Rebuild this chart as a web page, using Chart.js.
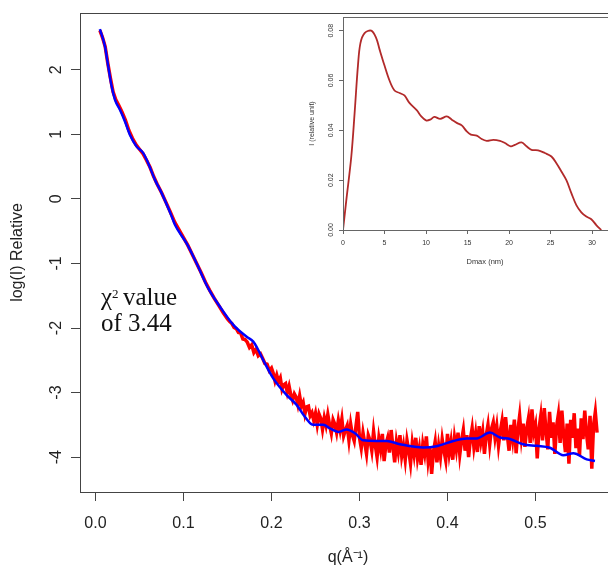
<!DOCTYPE html>
<html>
<head>
<meta charset="utf-8">
<script src="https://cdn.jsdelivr.net/npm/chart.js@4.4.1/dist/chart.umd.min.js"></script>
<style>
html, body { margin: 0; padding: 0; background: #fff; overflow: hidden; }
#wrap { position: relative; width: 608px; height: 567px; overflow: hidden; }
#main { position: absolute; left: 0; top: 0; }
#inset { position: absolute; left: 300px; top: 0; }
</style>
</head>
<body>
<div id="wrap">
  <canvas id="main" width="616" height="567"></canvas>
  <canvas id="inset" width="330" height="280"></canvas>
</div>
<script>
// experimental scattering curve (red)
const qExp = [
  0.005, 0.008, 0.011, 0.014, 0.017, 0.02, 0.023, 0.026, 0.03, 0.034,
  0.038, 0.042, 0.046, 0.05, 0.054, 0.058, 0.062, 0.066, 0.07, 0.075,
  0.08, 0.085, 0.09, 0.095, 0.1, 0.105, 0.11, 0.115, 0.12, 0.125,
  0.13, 0.135, 0.14, 0.145, 0.15,
  0.1525, 0.155, 0.1575, 0.16, 0.1625, 0.165, 0.1675, 0.17, 0.1725, 0.175,
  0.1775, 0.18, 0.1825, 0.185, 0.1875, 0.19, 0.1925, 0.195, 0.1975, 0.2,
  0.202, 0.204, 0.206, 0.208, 0.210, 0.212, 0.214, 0.216, 0.218, 0.220,
  0.222, 0.224, 0.226, 0.228, 0.230, 0.232, 0.234, 0.236, 0.238, 0.240,
  0.242, 0.244, 0.246, 0.248, 0.250,
  0.252, 0.254, 0.256, 0.258, 0.260, 0.262, 0.264, 0.266, 0.268, 0.270,
  0.272, 0.274, 0.276, 0.278, 0.280, 0.282, 0.284, 0.286, 0.288, 0.290,
  0.292, 0.294, 0.296, 0.298, 0.300,
  0.302, 0.304, 0.306, 0.308, 0.310, 0.312, 0.314, 0.316, 0.318, 0.320,
  0.322, 0.324, 0.326, 0.328, 0.330, 0.332, 0.334, 0.336, 0.338, 0.340,
  0.342, 0.344, 0.346, 0.348, 0.350,
  0.352, 0.354, 0.356, 0.358, 0.360, 0.362, 0.364, 0.366, 0.368, 0.370,
  0.372, 0.374, 0.376, 0.378, 0.380, 0.382, 0.384, 0.386, 0.388, 0.390,
  0.392, 0.394, 0.396, 0.398, 0.400,
  0.402, 0.404, 0.406, 0.408, 0.410, 0.412, 0.414, 0.416, 0.418, 0.420,
  0.422, 0.424, 0.426, 0.428, 0.430, 0.432, 0.434, 0.436, 0.438, 0.440,
  0.442, 0.444, 0.446, 0.448, 0.450,
  0.452, 0.454, 0.456, 0.458, 0.460, 0.462, 0.464, 0.466, 0.468, 0.470,
  0.472, 0.474, 0.476, 0.478, 0.480, 0.482, 0.484, 0.486, 0.488, 0.490,
  0.492, 0.494, 0.496, 0.498, 0.500,
  0.502, 0.504, 0.506, 0.508, 0.510, 0.512, 0.514, 0.516, 0.518, 0.520,
  0.522, 0.524, 0.526, 0.528, 0.530, 0.532, 0.534, 0.536, 0.538, 0.540,
  0.542, 0.544, 0.546, 0.548, 0.550, 0.552, 0.554, 0.556, 0.558, 0.560,
  0.562, 0.564, 0.566, 0.568, 0.570
];
const logIExp = [
  2.61, 2.50, 2.36, 2.10, 1.87, 1.66, 1.54, 1.46, 1.35, 1.22,
  1.06, 0.94, 0.84, 0.77, 0.70, 0.60, 0.49, 0.35, 0.23, 0.10,
  -0.05, -0.20, -0.36, -0.48, -0.60, -0.72, -0.86, -1.00, -1.14, -1.29,
  -1.42, -1.54, -1.65, -1.76, -1.86,
  -1.90, -1.93, -1.99, -2.01, -2.07, -2.08, -2.17, -2.18, -2.22, -2.30,
  -2.26, -2.38, -2.33, -2.43, -2.40, -2.47, -2.55, -2.56, -2.66, -2.62,
  -2.70, -2.82, -2.73, -2.83, -2.77, -2.95, -2.88, -2.86, -3.00, -2.90,
  -3.04, -3.12, -3.02, -3.07, -3.19, -3.05, -3.21, -3.15, -3.33, -3.22,
  -3.21, -3.36, -3.31, -3.43, -3.32,
  -3.50, -3.33, -3.40, -3.57, -3.39, -3.51, -3.34, -3.50, -3.63, -3.42,
  -3.49, -3.62, -3.43, -3.58, -3.41, -3.67, -3.58, -3.51, -3.74, -3.49,
  -3.66, -3.75, -3.52, -3.30, -3.70,
  -3.86, -3.62, -3.78, -3.95, -3.66, -3.74, -3.90, -3.60, -3.82, -4.00,
  -3.71, -3.88, -3.64, -4.06, -3.80, -3.70, -3.93, -3.58, -3.84, -4.08,
  -3.76, -3.92, -3.66, -3.98, -3.82,
  -4.04, -3.74, -3.90, -4.10, -3.78, -3.96, -3.70, -4.02, -3.86, -4.12,
  -3.80, -3.95, -3.68, -4.05, -3.84, -4.26, -3.92, -3.76, -4.08, -3.82,
  -4.00, -3.72, -3.90, -4.05, -3.64,
  -3.94, -3.76, -4.04, -3.70, -3.88, -3.62, -3.96, -3.74, -3.58, -3.90,
  -3.66, -4.00, -3.72, -3.55, -3.84, -3.64, -3.92, -3.52, -3.76, -3.60,
  -3.95, -3.66, -3.50, -3.80, -3.56,
  -3.46, -3.70, -3.52, -3.82, -3.60, -3.44, -3.74, -3.38, -3.66, -3.90,
  -3.50, -3.72, -3.42, -3.94, -3.58, -3.36, -3.70, -3.48, -3.84, -3.56,
  -3.40, -3.78, -3.26, -3.62, -3.50,
  -4.02, -3.56, -3.36, -3.74, -3.24, -3.60, -3.88, -3.30, -3.70, -3.46,
  -3.95, -3.52, -3.34, -3.78, -3.28, -3.66, -3.92, -3.48, -4.10, -3.42,
  -3.70, -3.32, -3.86, -3.56, -3.98, -3.40, -3.72, -3.28, -3.64, -3.88,
  -3.36, -4.18, -3.50, -3.30, -3.62
];
// model fit (blue)
const qFit = [
  0.005, 0.0108, 0.0145, 0.0184, 0.0222, 0.0278, 0.0335, 0.0392, 0.0468, 0.0543,
  0.06, 0.0676, 0.0752, 0.0866, 0.0903, 0.1036, 0.115, 0.1282, 0.1415, 0.1566,
  0.1718, 0.1793, 0.185, 0.1926, 0.202, 0.2173, 0.2286, 0.238, 0.2475, 0.2589,
  0.2665, 0.276, 0.2855, 0.2949, 0.3043, 0.3195, 0.331, 0.346, 0.3725, 0.3877,
  0.4066, 0.4218, 0.4332, 0.4483, 0.4597, 0.471, 0.486, 0.5014, 0.5165, 0.5316,
  0.543, 0.5582, 0.5676
];
const logIFit = [
  2.63, 2.36, 2.05, 1.74, 1.535, 1.38, 1.20, 0.99, 0.81, 0.71,
  0.55, 0.295, 0.09, -0.27, -0.40, -0.69, -1.0, -1.385, -1.67, -1.95,
  -2.135, -2.21, -2.34, -2.55, -2.78, -3.04, -3.19, -3.375, -3.50, -3.50,
  -3.555, -3.61, -3.57, -3.63, -3.74, -3.75, -3.75, -3.80, -3.85, -3.83,
  -3.75, -3.71, -3.71, -3.62, -3.695, -3.72, -3.80, -3.825, -3.855, -3.97,
  -3.94, -4.035, -4.06
];
const xTicks = [0, 0.1, 0.2, 0.3, 0.4, 0.5];
const yTicks = [-4, -3, -2, -1, 0, 1, 2];

// pair distance distribution (inset)
const rNm = [
  0, 0.4, 1.0, 1.4, 1.8, 2.1, 2.6, 3.4, 4.0, 4.4,
  5.0, 5.6, 6.2, 6.8, 7.4, 8.0, 8.9, 9.4, 10.0, 10.5,
  11.0, 11.7, 12.5, 13.1, 13.7, 14.3, 14.9, 15.4, 16.1, 16.7,
  17.3, 18.1, 18.9, 19.5, 20.2, 20.7, 21.5, 22.1, 22.7, 23.5,
  24.3, 25.1, 25.7, 26.3, 26.9, 27.5, 28.1, 28.7, 29.3, 29.9,
  30.5, 31.1
];
const pr = [
  0, 0.012, 0.0295, 0.047, 0.066, 0.075, 0.079, 0.080, 0.077, 0.0725,
  0.066, 0.060, 0.056, 0.055, 0.054, 0.051, 0.048, 0.0457, 0.044, 0.0443,
  0.0454, 0.0446, 0.0456, 0.0443, 0.043, 0.042, 0.0396, 0.0383, 0.0379, 0.0365,
  0.0358, 0.0362, 0.0358, 0.0349, 0.0336, 0.0342, 0.0352, 0.0336, 0.0322, 0.032,
  0.0309, 0.0295, 0.0268, 0.0235, 0.020, 0.0148, 0.010, 0.0071, 0.0054, 0.0043,
  0.002, 0
];
const rTicks = [0, 5, 10, 15, 20, 25, 30];
const prTicks = [0, 0.02, 0.04, 0.06, 0.08];

const sans = "'Liberation Sans', Arial, sans-serif";

function pts(xs, ys) {
  return xs.map((x, i) => ({ x: x, y: ys[i] }));
}

function noPad(s) {
  s.paddingTop = 0;
  s.paddingBottom = 0;
  s.paddingLeft = 0;
  s.paddingRight = 0;
}

// frame around the plotting region, like R's box()
const boxPlugin = {
  id: "box",
  afterDraw(chart, args, opts) {
    const a = chart.chartArea;
    const ctx = chart.ctx;
    ctx.save();
    ctx.strokeStyle = opts.color || "#444";
    ctx.lineWidth = 1;
    ctx.strokeRect(Math.round(a.left) + 0.5, Math.round(a.top) + 0.5,
      Math.round(a.right - a.left), Math.round(a.bottom - a.top));
    ctx.restore();
  }
};

// chi-square note
const notePlugin = {
  id: "note",
  afterDraw(chart) {
    const ctx = chart.ctx;
    ctx.save();
    ctx.fillStyle = "#111";
    ctx.textBaseline = "alphabetic";
    ctx.textAlign = "left";
    ctx.font = "25px 'Liberation Serif', 'Times New Roman', serif";
    ctx.fillText("\u03C7", 101, 305);
    ctx.font = "13px 'Liberation Serif', 'Times New Roman', serif";
    ctx.fillText("2", 112, 298);
    ctx.font = "25px 'Liberation Serif', 'Times New Roman', serif";
    ctx.fillText("value", 123, 305);
    ctx.fillText("of 3.44", 101, 331);
    ctx.restore();
  }
};

new Chart(document.getElementById("main"), {
  type: "scatter",
  data: {
    datasets: [
      {
        label: "experiment",
        data: pts(qExp, logIExp),
        showLine: true,
        borderColor: "#ff0000",
        borderWidth: 3.5,
        pointRadius: 0,
        tension: 0,
        order: 2
      },
      {
        label: "fit",
        data: pts(qFit, logIFit),
        showLine: true,
        borderColor: "#0000ff",
        borderWidth: 2.5,
        borderJoinStyle: "round",
        pointRadius: 0,
        cubicInterpolationMode: "monotone",
        order: 1
      }
    ]
  },
  options: {
    responsive: false,
    animation: false,
    events: [],
    layout: { padding: { top: 13, right: 0, left: 0, bottom: 0 } },
    plugins: {
      legend: { display: false },
      tooltip: { enabled: false },
      box: { color: "#444" }
    },
    scales: {
      x: {
        type: "linear",
        min: -0.0176,
        max: 0.5915,
        afterBuildTicks: s => { s.ticks = xTicks.map(v => ({ value: v })); },
        afterFit: s => { s.height = 75; noPad(s); },
        grid: { drawOnChartArea: false, drawTicks: true, tickLength: 9, color: "#444" },
        border: { display: false },
        ticks: {
          padding: 13,
          maxRotation: 0,
          color: "#222",
          font: { family: sans, size: 16 },
          callback: v => v.toFixed(1)
        },
        title: {
          display: true,
          text: "q(\u00C5\u207B\u00B9)",
          color: "#222",
          font: { family: sans, size: 16 },
          padding: { top: 0, bottom: 0 }
        }
      },
      y: {
        type: "linear",
        min: -4.54,
        max: 2.88,
        afterBuildTicks: s => { s.ticks = yTicks.map(v => ({ value: v })); },
        afterFit: s => { s.width = 80; noPad(s); },
        grid: { drawOnChartArea: false, drawTicks: true, tickLength: 9, color: "#444" },
        border: { display: false },
        ticks: {
          padding: 7,
          minRotation: 90,
          maxRotation: 90,
          crossAlign: "center",
          color: "#222",
          font: { family: sans, size: 16 },
          callback: v => String(v)
        },
        title: {
          display: true,
          text: "log(I) Relative",
          color: "#222",
          font: { family: sans, size: 16 },
          padding: { top: 8, bottom: 0 }
        }
      }
    }
  },
  plugins: [boxPlugin, notePlugin]
});

new Chart(document.getElementById("inset"), {
  type: "scatter",
  data: {
    datasets: [
      {
        label: "P(r)",
        data: pts(rNm, pr),
        showLine: true,
        borderColor: "#b22a2a",
        borderWidth: 1.8,
        pointRadius: 0,
        tension: 0.35
      }
    ]
  },
  options: {
    responsive: false,
    animation: false,
    events: [],
    layout: { padding: { top: 17, right: 3, left: 0, bottom: 0 } },
    plugins: {
      legend: { display: false },
      tooltip: { enabled: false },
      box: { color: "#666" }
    },
    scales: {
      x: {
        type: "linear",
        min: 0,
        max: 34.2,
        afterBuildTicks: s => { s.ticks = rTicks.map(v => ({ value: v })); },
        afterFit: s => { s.height = 50; noPad(s); },
        grid: { drawOnChartArea: false, drawTicks: true, tickLength: 4, color: "#666" },
        border: { display: false },
        ticks: {
          padding: 5,
          maxRotation: 0,
          color: "#333",
          font: { family: sans, size: 7 },
          callback: v => String(v)
        },
        title: {
          display: true,
          text: "Dmax (nm)",
          color: "#333",
          font: { family: sans, size: 7.5 },
          padding: { top: 0, bottom: 14 }
        }
      },
      y: {
        type: "linear",
        min: 0,
        max: 0.0855,
        afterBuildTicks: s => { s.ticks = prTicks.map(v => ({ value: v })); },
        afterFit: s => { s.width = 43; noPad(s); },
        grid: { drawOnChartArea: false, drawTicks: true, tickLength: 4, color: "#666" },
        border: { display: false },
        ticks: {
          padding: 1,
          minRotation: 90,
          maxRotation: 90,
          crossAlign: "center",
          color: "#333",
          font: { family: sans, size: 7 },
          callback: v => v.toFixed(2)
        },
        title: {
          display: true,
          text: "I (relative unit)",
          color: "#333",
          font: { family: sans, size: 7 },
          padding: { top: 8, bottom: 0 }
        }
      }
    }
  },
  plugins: [boxPlugin]
});
</script>
</body>
</html>
